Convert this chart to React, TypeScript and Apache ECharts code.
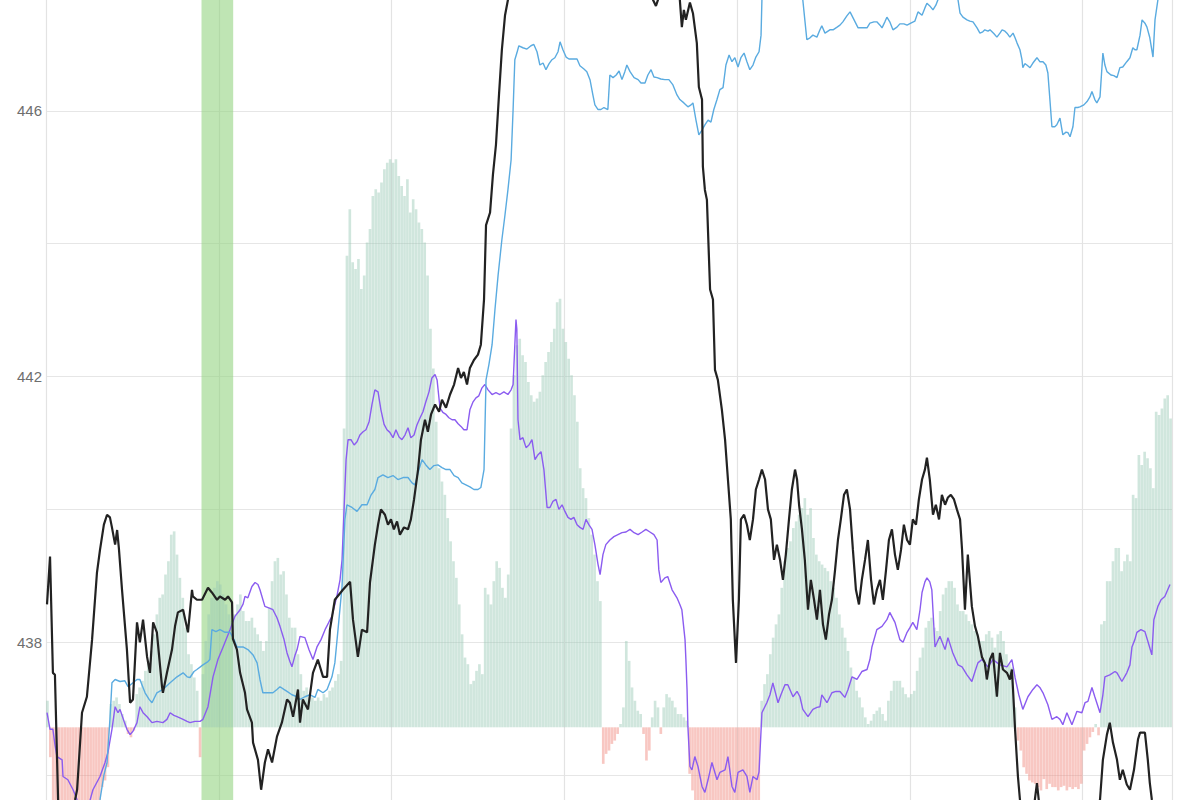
import React, { useEffect, useRef } from "react";
import * as echarts from "echarts";

// Histogram values (one per bar / category), positive = teal, negative = red
const histogram: number[] = [
  0.4, -0.45, -1.2, -1.5, -1.7, -1.8, -1.9, -2.0, -2.0, -1.9,
  -1.9, -1.8, -1.7, -1.6, -1.5, -1.4, -1.3, -1.2, -1.1, -0.9,
  -0.8, -0.6, 0.35, 0.4, 0.45, 0.35, 0.2, 0.1, -0.1, -0.15,
  -0.05, 0.5, 0.6, 0.7, 0.85, 1.0, 1.15, 1.4, 1.7, 1.95,
  2.0, 2.3, 2.5, 2.9, 2.95, 2.6, 2.25, 1.95, 1.5, 1.1,
  0.95, 0.75, 0.55, -0.45, 0.8, 1.3, 1.7, 1.95, 2.1, 2.2,
  2.15, 2.0, 1.85, 1.7, 1.6, 1.7, 1.85, 2.0, 1.75, 1.6,
  1.6, 1.65, 1.5, 1.4, 1.3, 1.15, 1.3, 1.8, 2.2, 2.5,
  2.55, 2.3, 2.35, 2.0, 1.65, 1.5, 1.5, 1.1, 0.8, 0.55,
  0.6, 0.45, 0.45, 0.4, 0.45, 0.4, 0.5, 0.45, 0.55, 0.6,
  0.7, 0.8, 1.0, 4.5, 7.1, 7.8, 7.0, 6.9, 7.05, 6.6,
  6.8, 7.3, 7.5, 8.0, 8.1, 8.05, 8.2, 8.4, 8.5, 8.55,
  8.5, 8.55, 8.3, 8.15, 8.0, 8.25, 7.75, 7.95, 7.8, 7.6,
  7.5, 7.3, 6.8, 6.0, 5.4, 4.6, 3.9, 3.7, 3.5, 3.15,
  2.8, 2.5, 2.25, 1.85, 1.4, 1.05, 0.95, 0.65, 0.7, 0.85,
  0.95, 0.8, 2.1, 2.0, 1.85, 2.2, 2.5, 2.4, 2.1, 1.95,
  2.3, 4.5, 5.3, 5.75, 5.85, 5.6, 5.5, 5.2, 5.0, 4.9,
  4.95, 5.05, 5.3, 5.5, 5.65, 5.8, 6.0, 6.4, 6.45, 6.0,
  5.8, 5.55, 5.3, 5.0, 4.6, 3.9, 3.6, 3.45, 3.15, 2.9,
  2.6, 2.2, 1.9, -0.55, -0.4, -0.35, -0.25, -0.2, -0.1, 0.05,
  0.3, 1.3, 1.0, 0.6, 0.4, 0.25, 0.2, -0.1, -0.5, -0.35,
  0.15, 0.4, 0.3, -0.1, 0.3, 0.5, 0.45, 0.4, 0.3, 0.2,
  0.2, 0.15, 0.1, -0.7, -0.95, -1.3, -1.4, -1.5, -1.6, -1.5,
  -1.6, -1.7, -1.6, -1.5, -1.6, -1.5, -1.4, -1.5, -1.6, -1.5,
  -1.4, -1.5, -1.4, -1.5, -1.6, -1.4, -1.3, -1.3, 0.4, 0.65,
  0.8, 1.1, 1.35, 1.55, 1.7, 2.1, 2.5, 2.7, 2.8, 3.0,
  3.1, 3.2, 3.3, 3.45, 3.2, 3.3, 2.85, 2.6, 2.5, 2.45,
  2.4, 2.35, 2.2, 2.1, 1.95, 1.7, 1.5, 1.35, 1.15, 0.9,
  0.75, 0.55, 0.45, 0.3, 0.15, 0.05, 0.1, 0.2, 0.25, 0.3,
  0.2, 0.1, 0.4, 0.55, 0.7, 0.7, 0.7, 0.6, 0.5, 0.45,
  0.5, 0.55, 0.85, 1.05, 1.2, 1.5, 1.6, 1.65, 1.5, 1.45,
  1.75, 2.0, 2.1, 2.2, 2.2, 2.1, 1.85, 1.75, 1.75, 1.7,
  1.6, 1.55, 1.45, 1.4, 1.3, 1.3, 1.4, 1.45, 1.35, 1.2,
  1.4, 1.45, 1.3, 1.1, 0.95, 0.9, 0.3, -0.2, -0.35, -0.6,
  -0.7, -0.8, -0.83, -0.85, -0.9, -0.95, -0.78, -0.93, -0.85, -0.9,
  -0.9, -0.95, -0.9, -0.88, -0.95, -0.9, -0.93, -0.9, -0.93, -0.85,
  -0.35, -0.25, -0.15, -0.07, 0.05, -0.12, 1.55, 1.6, 2.2, 2.2,
  2.5, 2.7, 2.7, 2.35, 2.5, 2.6, 2.5, 3.5, 3.45, 4.1,
  3.95, 4.15, 4.05, 3.9, 3.6, 4.75, 4.7, 4.8, 4.95, 5.0,
  4.65,
];

const categories: string[] = histogram.map((_, i) => String(i));

// Price-axis labels that are shown
const shownTicks: number[] = [438, 442, 446];

// [bar position, price]
const priceLine: [number, number][] = [
  [0.35, 438.57], [1.4, 439.29], [2.4, 437.54], [3.1, 437.51], [4.2, 435.63], [6, 435.2], [8.5, 435.3],
  [10.1, 435.63], [10.8, 435.78], [12.5, 436.94], [14.2, 437.18], [16, 438.04], [17.7, 439.05], [18.75, 439.39],
  [20.1, 439.77], [21.2, 439.92], [22.2, 439.88], [22.9, 439.73], [24, 439.47], [24.7, 439.69], [25.3, 439.42],
  [26.4, 438.79], [28.1, 437.89], [29.2, 437.09], [30.2, 437.14], [31.6, 438.3], [32.6, 438.0], [33.7, 438.34],
  [35.1, 437.78], [36.1, 437.54], [37.2, 438.3], [38.5, 438.15], [40.3, 437.33], [40.6, 437.24], [42, 437.54],
  [43.75, 437.89], [44.8, 438.24], [45.8, 438.45], [47.6, 438.49], [49.3, 438.15], [50.7, 438.79], [51, 438.69],
  [52.4, 438.64], [54.2, 438.64], [56.25, 438.82], [57.6, 438.75], [59.4, 438.64], [60.4, 438.69], [62.2, 438.64],
  [63.2, 438.69], [64.6, 438.6], [64.9, 438.05], [66.3, 437.89], [67.4, 437.54], [69.1, 437.24], [69.8, 436.99],
  [71.5, 436.79], [71.9, 436.49], [73.6, 436.23], [74.7, 435.78], [76, 436.19], [77.1, 436.39], [78.5, 436.19],
  [80.2, 436.58], [81.9, 436.79], [83.7, 437.14], [84.7, 437.09], [85.8, 436.88], [87.5, 437.29], [88.2, 436.79],
  [89.2, 437.14], [90.97, 436.99], [92.7, 437.54], [94.4, 437.74], [96.2, 437.48], [97.6, 437.48], [98.6, 438.19],
  [100.3, 438.64], [103.1, 438.79], [105.6, 438.91], [106.6, 438.34], [108.3, 437.78], [109.7, 438.19],
  [111.5, 438.15], [112.5, 438.9], [114.2, 439.47], [115.3, 439.77], [116.3, 440.0], [117.7, 439.92],
  [118.75, 439.77], [119.8, 439.85], [120.8, 439.7], [121.9, 439.82], [122.9, 439.62], [124.3, 439.73],
  [125.7, 439.7], [126.7, 439.85], [127.8, 440.15], [129.2, 440.6], [130.2, 441.05], [131.6, 441.35],
  [132.6, 441.17], [133.7, 441.43], [135.1, 441.58], [136.5, 441.47], [137.5, 441.65], [138.9, 441.53],
  [140.3, 441.73], [141.7, 441.88], [143.1, 442.13], [144.1, 441.98], [145.1, 442.07], [146.2, 441.88],
  [147.2, 442.13], [148.6, 442.25], [150, 442.33], [151, 442.48], [152.1, 443.16], [152.8, 444.28],
  [154.2, 444.47], [155.2, 445.04], [156.25, 445.49], [157.3, 446.24], [158.3, 446.92], [159.4, 447.44],
  [160.4, 447.67], [163, 448.4], [170, 448.6], [180, 448.8], [190, 448.6], [200, 448.7], [207, 448.4],
  [210.8, 447.67], [211.8, 447.58], [212.5, 447.67], [215, 448.1], [218, 448.1], [220.1, 447.67],
  [220.8, 447.26], [221.5, 447.52], [222.2, 447.37], [223.6, 447.63], [224.65, 447.47], [226, 447.02],
  [226.7, 446.36], [227.8, 446.17], [228.1, 445.16], [228.8, 444.81], [229.5, 444.66], [230.6, 443.31],
  [231.6, 443.16], [232.3, 442.1], [233.3, 441.95], [234.7, 441.5], [235.8, 441.05], [236.8, 440.45],
  [237.8, 439.85], [238.5, 438.64], [239.6, 437.69], [240.6, 438.64], [241.3, 439.85], [242.4, 439.92],
  [243.4, 439.77], [244.4, 439.54], [245.5, 439.85], [246.5, 440.3], [247.6, 440.45], [248.6, 440.6],
  [249.7, 440.45], [250.7, 440.0], [251.7, 439.85], [252.8, 439.24], [253.8, 439.47], [254.9, 439.24],
  [255.9, 438.94], [256.9, 439.32], [258, 439.85], [259, 440.3], [260.1, 440.6], [260.8, 440.45],
  [261.5, 440.07], [262.5, 439.7], [263.5, 439.24], [264.6, 438.49], [265.6, 438.94], [266.7, 438.64],
  [267.7, 438.34], [268.75, 438.79], [269.8, 438.27], [270.8, 438.04], [271.9, 438.42], [272.9, 438.64],
  [274, 439.09], [275, 439.54], [276, 439.85], [277.1, 440.22], [278.1, 440.3], [279.2, 440.0],
  [280.2, 439.39], [281.25, 438.79], [282.3, 438.57], [283.3, 438.94], [284.4, 439.24], [285.4, 439.54],
  [286.5, 438.94], [287.5, 438.57], [288.5, 438.79], [289.6, 438.94], [290.6, 438.64], [291.7, 439.09],
  [292.7, 439.54], [293.75, 439.7], [294.8, 439.32], [295.8, 439.09], [296.9, 439.39], [297.9, 439.77],
  [299, 439.54], [300, 439.47], [301, 439.85], [302.1, 439.77], [303.1, 440.15], [304.2, 440.45],
  [305.2, 440.6], [305.9, 440.78], [306.9, 440.45], [308, 439.92], [309, 440.07], [310.1, 439.85],
  [311.1, 440.22], [312.2, 440.07], [313.2, 440.18], [314.2, 440.22], [315.3, 440.15], [316.3, 440.0],
  [317.4, 439.85], [318.1, 439.39], [319.1, 438.49], [320.1, 439.32], [321.5, 438.54], [322.6, 438.24],
  [323.6, 438.09], [325, 437.78], [326, 437.69], [326.7, 437.44], [327.8, 437.74], [328.8, 437.84],
  [330.2, 437.18], [331.25, 437.84], [332.3, 437.59], [333.7, 437.54], [334.7, 437.44], [335.4, 437.59],
  [335.8, 437.29], [336.5, 436.69], [337.5, 435.98], [338.2, 435.63], [340.5, 435.3], [343, 435.5],
  [344.1, 435.88], [345.3, 435.4], [348, 435.2], [352, 435.0], [356, 435.2], [360, 435.1], [363, 435.3],
  [366, 435.63], [367, 436.23], [368.4, 436.61], [369.4, 436.79], [370.5, 436.49], [371.9, 436.23],
  [372.9, 435.93], [373.9, 436.08], [375.3, 435.86], [376.4, 435.78], [377.8, 436.08], [379.2, 436.54],
  [379.9, 436.64], [381.6, 436.64], [382.6, 436.23], [383.3, 435.88], [384, 435.63], [386.5, 435.2],
  [390.5, 435.0],
];

const blueLine: [number, number][] = [
  [0.5, 434.6], [8, 434.5], [15, 434.9], [17.5, 435.4], [18.75, 435.63], [20.1, 436.0], [21.2, 436.19],
  [22.2, 436.84], [22.9, 437.39], [24, 437.44], [25.7, 437.41], [27.4, 437.42], [28.5, 437.33], [30.2, 437.39],
  [31.6, 437.44], [32.6, 437.44], [34.4, 437.24], [35.8, 437.14], [36.8, 437.09], [38.5, 437.24], [40.6, 437.29],
  [43.1, 437.39], [45.5, 437.48], [47.6, 437.54], [49, 437.48], [50, 437.47], [51.4, 437.56], [52.4, 437.59],
  [54.5, 437.66], [56.25, 437.71], [56.9, 437.74], [57.6, 438.19], [59, 438.16], [60.4, 438.19], [62.2, 438.15],
  [63.9, 438.15], [65.3, 438.04], [66.3, 437.93], [68.4, 437.93], [70.1, 437.89], [71.9, 437.81], [73.3, 437.69],
  [74.3, 437.44], [75.3, 437.24], [77.1, 437.24], [78.8, 437.24], [80.2, 437.29], [81.25, 437.33], [82.6, 437.29],
  [83.7, 437.26], [85.4, 437.21], [87.2, 437.18], [88.2, 437.14], [89.9, 437.18], [91.7, 437.21], [93.4, 437.17],
  [94.4, 437.29], [96.2, 437.24], [97.6, 437.29], [99.3, 437.48], [100.3, 437.69], [101.4, 438.19],
  [102.8, 438.84], [103.8, 439.85], [104.5, 440.07], [106.25, 440.03], [108, 439.97], [109.7, 440.07],
  [111.5, 440.07], [112.8, 440.21], [114.2, 440.3], [115.3, 440.48], [117, 440.52], [118.75, 440.48],
  [120.5, 440.51], [122.2, 440.45], [124, 440.48], [125.7, 440.48], [127.1, 440.4], [128.1, 440.37],
  [129.5, 440.6], [130.6, 440.75], [131.9, 440.67], [133.3, 440.6], [134.7, 440.66], [136.1, 440.67],
  [137.5, 440.63], [138.9, 440.6], [140.3, 440.6], [141.7, 440.51], [143.1, 440.48], [144.4, 440.4],
  [145.8, 440.37], [147.2, 440.34], [148.6, 440.3], [150, 440.3], [151, 440.33], [152.1, 440.6],
  [152.8, 441.95], [153.8, 442.18], [154.9, 442.48], [155.9, 443.01], [157, 443.53], [158.3, 444.06],
  [159.4, 444.44], [160.4, 444.81], [161.5, 445.26], [162.2, 446.02], [162.8, 446.77], [163.5, 446.87],
  [164.2, 446.98], [165.6, 446.95], [167, 446.93], [168.4, 446.98], [169.4, 447.0], [170.5, 446.89],
  [171.5, 446.69], [172.6, 446.72], [173.6, 446.62], [174.7, 446.71], [175.7, 446.77], [176.7, 446.8],
  [177.8, 446.89], [178.5, 447.04], [179.5, 446.92], [180.6, 446.81], [181.6, 446.78], [183, 446.78],
  [184.4, 446.78], [185.4, 446.68], [186.8, 446.63], [187.8, 446.59], [188.9, 446.47], [189.9, 446.24],
  [190.6, 446.09], [191.7, 446.02], [192.7, 446.02], [193.75, 446.05], [195.1, 446.02], [195.8, 446.54],
  [196.9, 446.5], [198, 446.54], [199, 446.6], [200, 446.47], [201, 446.59], [201.7, 446.69], [202.8, 446.59],
  [204.2, 446.5], [205.6, 446.47], [206.6, 446.42], [208, 446.42], [209, 446.54], [210.1, 446.62],
  [211.1, 446.51], [212.2, 446.5], [213.5, 446.48], [214.9, 446.47], [216.3, 446.47], [217.7, 446.39],
  [219.1, 446.24], [220.1, 446.17], [221.5, 446.12], [222.9, 446.06], [224, 446.09], [224.65, 446.12],
  [225.7, 445.86], [226.7, 445.64], [227.8, 445.71], [228.8, 445.79], [229.9, 445.86], [230.9, 445.83],
  [231.9, 446.02], [233, 446.17], [234, 446.32], [235.1, 446.35], [236.1, 446.69], [237.2, 446.84],
  [238.2, 446.74], [239.2, 446.8], [240.3, 446.66], [241.3, 446.8], [242.4, 446.87], [243.4, 446.74],
  [244.4, 446.62], [245.5, 446.69], [246.5, 446.81], [247.6, 446.89], [248.3, 447.14], [248.6, 447.67],
  [250, 448.3], [256, 448.5], [261, 448.2], [262.8, 447.67], [263.5, 447.37], [264.2, 447.07],
  [265.3, 447.1], [266.3, 447.14], [267.7, 447.11], [268.75, 447.22], [269.4, 447.28], [270.5, 447.17],
  [272.2, 447.22], [273.3, 447.22], [274.7, 447.26], [275.7, 447.29], [276.7, 447.34], [278.1, 447.43],
  [279.2, 447.49], [280.6, 447.37], [282, 447.25], [283.3, 447.25], [285.1, 447.25], [286.1, 447.32],
  [287.5, 447.34], [288.5, 447.34], [289.6, 447.29], [290.3, 447.25], [291.3, 447.34], [292, 447.41],
  [293, 447.34], [294.1, 447.22], [295.5, 447.26], [296.5, 447.31], [297.9, 447.31], [299, 447.29],
  [300.3, 447.32], [301.7, 447.35], [302.8, 447.49], [304.2, 447.44], [305.2, 447.55], [305.9, 447.62],
  [306.9, 447.58], [308, 447.52], [309, 447.59], [309.7, 447.67], [311.5, 448.0], [315, 448.0],
  [316.7, 447.67], [317.4, 447.47], [318.4, 447.41], [319.8, 447.37], [320.8, 447.35], [321.9, 447.34],
  [323.3, 447.25], [324.3, 447.17], [325.3, 447.19], [326, 447.22], [327.1, 447.2], [327.8, 447.22],
  [329.2, 447.16], [330.2, 447.11], [331.25, 447.17], [332, 447.22], [333, 447.2], [333.7, 447.17],
  [334.7, 447.11], [335.8, 447.17], [336.5, 447.1], [337.2, 447.02], [338.2, 446.92], [338.9, 446.77],
  [339.2, 446.65], [339.9, 446.71], [340.6, 446.69], [341.7, 446.65], [342.7, 446.72], [344.1, 446.8],
  [345.1, 446.74], [346.2, 446.74], [347.2, 446.69], [347.9, 446.57], [348.6, 446.17], [349.3, 445.76],
  [350.3, 445.76], [351, 445.79], [352.1, 445.89], [352.8, 445.71], [353.1, 445.64], [354.2, 445.68],
  [354.9, 445.67], [355.6, 445.61], [356.6, 445.76], [357.3, 446.05], [358.3, 446.05], [359, 446.06],
  [360.4, 446.09], [361.5, 446.14], [362.5, 446.21], [363.2, 446.29], [364.2, 446.17], [364.9, 446.12],
  [366, 446.21], [367, 446.87], [367.7, 446.69], [368.4, 446.59], [369.8, 446.54], [370.8, 446.53],
  [371.9, 446.5], [372.9, 446.65], [373.9, 446.66], [375.3, 446.74], [376.4, 446.8], [377.4, 446.95],
  [378.1, 446.92], [378.8, 446.92], [379.9, 447.14], [380.6, 447.37], [381.6, 447.32], [382.3, 447.26],
  [383.3, 447.1], [384.4, 446.81], [385.1, 447.37], [386.1, 447.67], [388, 448.1], [390.5, 448.4],
];

const purpleLine: [number, number][] = [
  [0.35, 436.94], [1.4, 436.69], [2.4, 436.69], [3.1, 436.46], [3.8, 436.28], [5.6, 436.23], [5.9, 435.98],
  [7.6, 435.93], [9.4, 435.78], [10.8, 435.63], [12.5, 435.45], [14.5, 435.5], [16.3, 435.78], [18.75, 435.98],
  [20.5, 436.19], [21.5, 436.34], [22.9, 436.69], [24, 437.03], [25, 436.94], [25.7, 436.99], [27.1, 436.81],
  [28.1, 436.69], [29.2, 436.61], [30.2, 436.66], [31.6, 436.79], [32.6, 437.03], [33.7, 436.94], [35.1, 436.88],
  [36.8, 436.79], [38.5, 436.81], [40.6, 436.79], [42, 436.84], [43.1, 436.94], [44.4, 436.9], [45.5, 436.88],
  [47.6, 436.84], [49, 436.81], [50, 436.79], [51.7, 436.81], [53.5, 436.81], [54.5, 436.84], [56.25, 437.03],
  [58, 437.48], [59.7, 437.74], [61.5, 437.93], [63.9, 438.19], [65.6, 438.39], [67.4, 438.49], [68.4, 438.57],
  [69.1, 438.69], [70.1, 438.67], [71.5, 438.84], [72.6, 438.9], [73.6, 438.87], [74.3, 438.79], [76, 438.54],
  [77.8, 438.51], [78.8, 438.49], [80.2, 438.37], [81.25, 438.24], [82.6, 438.05], [83.7, 437.84], [84.7, 437.71],
  [85.4, 437.63], [86.5, 437.81], [87.2, 437.89], [88.2, 438.09], [89.9, 438.07], [91.3, 437.89], [92.7, 437.74],
  [94.1, 437.93], [95.5, 438.04], [96.9, 438.19], [98.3, 438.31], [99.3, 438.39], [100.3, 438.57], [101, 438.69],
  [102.1, 438.94], [102.8, 439.24], [103.5, 440.0], [104.2, 440.75], [104.9, 441.05], [105.9, 441.05],
  [107, 440.97], [108, 441.02], [109, 441.12], [110.1, 441.17], [111.1, 441.2], [112.2, 441.32], [113.2, 441.58],
  [114.2, 441.8], [115.3, 441.77], [116.3, 441.5], [117.4, 441.28], [118.4, 441.2], [119.4, 441.16],
  [120.5, 441.08], [121.5, 441.2], [122.6, 441.09], [123.6, 441.05], [124.65, 441.12], [125.7, 441.23],
  [126.7, 441.08], [127.8, 441.12], [128.8, 441.27], [129.9, 441.38], [130.9, 441.47], [131.9, 441.62],
  [133, 441.77], [134, 441.98], [135.1, 442.03], [135.8, 441.95], [136.8, 441.53], [137.8, 441.46],
  [138.9, 441.43], [139.9, 441.38], [141, 441.35], [142, 441.35], [143.1, 441.29], [144.1, 441.25],
  [145.1, 441.2], [146.2, 441.2], [147.2, 441.5], [148.3, 441.62], [149.3, 441.68], [150.3, 441.71],
  [151.4, 441.83], [152.4, 441.88], [153.5, 441.8], [154.9, 441.73], [156.25, 441.76], [157.6, 441.73],
  [159, 441.77], [160.4, 441.73], [161.5, 441.8], [162.2, 441.88], [162.8, 442.48], [163.2, 442.86],
  [163.5, 442.71], [163.9, 441.35], [164.6, 441.05], [165.6, 441.08], [166.7, 440.93], [167.7, 440.97],
  [168.75, 441.05], [169.8, 440.75], [170.8, 440.82], [171.9, 440.87], [172.9, 440.6], [174, 440.03],
  [175, 440.03], [176, 440.12], [177.1, 440.15], [178.1, 440.0], [179.2, 440.07], [180.2, 439.97],
  [181.25, 439.88], [182.3, 439.85], [183.3, 439.88], [184.4, 439.77], [185.4, 439.73], [186.5, 439.7],
  [187.5, 439.85], [188.5, 439.77], [189.6, 439.7], [190.6, 439.47], [191.7, 439.17], [192.4, 439.02],
  [193.4, 439.32], [194.4, 439.47], [195.8, 439.54], [197.2, 439.59], [198.6, 439.62], [200, 439.65],
  [201.4, 439.66], [202.8, 439.7], [204.2, 439.65], [205.6, 439.62], [207, 439.66], [208.3, 439.7],
  [209.7, 439.66], [211.1, 439.62], [212.2, 439.54], [212.8, 439.09], [213.5, 438.9], [214.9, 438.97],
  [215.9, 438.99], [217.4, 438.79], [219.1, 438.67], [220.1, 438.57], [220.8, 438.49], [221.9, 438.04],
  [222.2, 437.74], [222.6, 437.29], [222.9, 436.73], [223.6, 436.13], [224.3, 436.08], [225.3, 436.28],
  [226.4, 436.13], [227.8, 435.83], [228.8, 435.74], [229.9, 435.93], [231.25, 436.19], [233, 435.93],
  [234, 436.04], [235.8, 436.08], [236.8, 436.28], [238.2, 435.83], [239.2, 435.74], [240.3, 436.04],
  [242, 436.08], [243.4, 435.98], [244.4, 435.74], [245.5, 435.98], [246.9, 435.93], [247.6, 436.05],
  [248.6, 436.94], [250.3, 437.09], [251.4, 437.21], [252.4, 437.39], [254.2, 437.09], [255.2, 437.21],
  [256.6, 437.36], [257.6, 437.36], [259.4, 437.18], [260.8, 437.26], [261.8, 437.18], [262.8, 436.99],
  [264.6, 436.88], [266.3, 436.99], [267.7, 437.02], [268.75, 437.03], [269.4, 437.21], [271.2, 437.09],
  [272.9, 437.24], [274.3, 437.26], [275.7, 437.26], [277.4, 437.17], [278.5, 437.29], [279.9, 437.48],
  [281.6, 437.44], [283.3, 437.56], [285.1, 437.59], [286.1, 437.74], [286.8, 437.93], [288.5, 438.19],
  [290.3, 438.24], [292, 438.34], [293, 438.45], [294.8, 438.3], [296.5, 438.04], [297.6, 438.0],
  [299, 438.15], [300, 438.22], [301, 438.3], [302.4, 438.19], [303.5, 438.49], [304.2, 438.75],
  [305.2, 438.91], [305.9, 438.97], [306.9, 438.91], [307.6, 438.79], [308.7, 437.93], [310.4, 438.09],
  [312.2, 437.89], [313.2, 438.07], [314.9, 437.84], [316.7, 437.66], [318.1, 437.63], [319.8, 437.51],
  [321.5, 437.41], [322.6, 437.56], [323.6, 437.69], [325, 437.74], [327.1, 437.63], [328.8, 437.74],
  [331.25, 437.66], [333.7, 437.63], [335.4, 437.74], [336.5, 437.47], [337.8, 437.21], [339.2, 436.99],
  [340.97, 437.18], [342.7, 437.29], [344.1, 437.36], [345.1, 437.32], [346.2, 437.24], [347.9, 437.06],
  [349.3, 436.84], [351, 436.88], [352.1, 436.84], [353.1, 436.76], [354.5, 436.94], [356.25, 436.76],
  [358, 436.96], [359.7, 436.94], [360.8, 437.09], [361.8, 437.11], [363.2, 437.32], [364.2, 437.18],
  [366, 436.94], [367, 437.21], [367.7, 437.48], [369.4, 437.51], [371.2, 437.56], [371.9, 437.54],
  [373.6, 437.41], [375.3, 437.54], [376.4, 437.66], [377.1, 437.93], [378.1, 438.04], [378.8, 438.15],
  [380.2, 438.19], [381.6, 438.16], [383, 437.96], [384, 437.81], [384.7, 438.34], [386.1, 438.54],
  [387.2, 438.64], [388.5, 438.69], [390.3, 438.87],
];

// Highlighted band (in bar-position units)
const bandRange: [number, number] = [54, 65];

export default function App() {
  const ref = useRef<HTMLDivElement>(null);

  useEffect(() => {
    if (!ref.current) return;
    const chart = echarts.init(ref.current, undefined, { renderer: "svg" });
    const n = histogram.length;
    chart.setOption({
      animation: false,
      backgroundColor: "#ffffff",
      grid: {
        left: 46,
        right: 28,
        top: 0,
        bottom: 0,
        containLabel: false,
        outerBoundsMode: "none",
      },
      xAxis: [
        {
          type: "category",
          data: categories,
          boundaryGap: true,
          axisLine: { show: false },
          axisTick: { show: false },
          axisLabel: { show: false },
          splitLine: { show: false },
        },
        {
          type: "value",
          min: 0,
          max: n,
          interval: 60,
          axisLine: { show: false },
          axisTick: { show: false },
          axisLabel: { show: false },
          splitLine: { show: true, lineStyle: { color: "#e3e3e3", width: 1.2 } },
        },
      ],
      yAxis: [
        {
          type: "value",
          min: 434,
          max: 448,
          interval: 2,
          axisLine: { show: false },
          axisTick: { show: false },
          axisLabel: {
            margin: 4,
            color: "#6e6e6e",
            fontSize: 15,
            fontFamily: "Liberation Sans, Arial, sans-serif",
            formatter: (v: number) => (shownTicks.indexOf(Math.round(v)) >= 0 ? String(v) : ""),
          },
          splitLine: { show: true, lineStyle: { color: "#e6e6e6", width: 1.2 } },
        },
        {
          type: "value",
          min: -2.72,
          max: 11.28,
          show: false,
          splitLine: { show: false },
        },
      ],
      series: [
        {
          type: "line",
          name: "band",
          xAxisIndex: 1,
          yAxisIndex: 0,
          data: [],
          z: 1,
          silent: true,
          markArea: {
            silent: true,
            itemStyle: { color: "rgba(145, 210, 125, 0.58)" },
            data: [[{ xAxis: bandRange[0] }, { xAxis: bandRange[1] }]],
          },
        },
        {
          type: "bar",
          name: "hist",
          xAxisIndex: 0,
          yAxisIndex: 1,
          data: histogram,
          barCategoryGap: "8%",
          z: 2,
          itemStyle: {
            color: (p: any) =>
              p.value >= 0 ? "rgba(150, 200, 180, 0.45)" : "rgba(240, 130, 120, 0.45)",
          },
        },
        {
          type: "line",
          name: "purple",
          xAxisIndex: 1,
          yAxisIndex: 0,
          data: purpleLine,
          showSymbol: false,
          z: 3,
          lineStyle: { color: "#8b5cf0", width: 1.4 },
        },
        {
          type: "line",
          name: "blue",
          xAxisIndex: 1,
          yAxisIndex: 0,
          data: blueLine,
          showSymbol: false,
          z: 4,
          lineStyle: { color: "#5aabe0", width: 1.4 },
        },
        {
          type: "line",
          name: "price",
          xAxisIndex: 1,
          yAxisIndex: 0,
          data: priceLine,
          showSymbol: false,
          z: 5,
          lineStyle: { color: "#222222", width: 2.2 },
        },
      ],
    });
    return () => chart.dispose();
  }, []);

  return (
    <div
      style={{
        position: "fixed",
        left: 0,
        top: 0,
        width: 1200,
        height: 800,
        overflow: "hidden",
        background: "#ffffff",
      }}
    >
      <div ref={ref} style={{ position: "absolute", left: 0, top: -22, width: 1200, height: 930 }} />
    </div>
  );
}
